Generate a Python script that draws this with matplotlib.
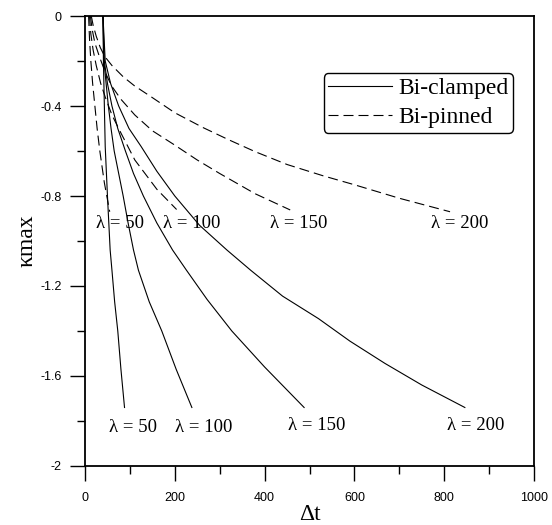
import matplotlib.pyplot as plt
from matplotlib.ticker import MultipleLocator

plt.rcParams['axes.unicode_minus'] = False

# Bi-clamped curves (solid)
clamped_50_t = [40, 41, 45, 50, 56, 60, 66, 73, 80, 88]
clamped_50_k = [0, -0.2, -0.58, -0.8, -1.04, -1.13, -1.27, -1.4, -1.57, -1.74]
clamped_100_t = [40, 42, 47, 52, 58, 65, 75, 85, 96, 108, 119, 143, 171, 203, 238]
clamped_100_k = [0, -0.2, -0.3, -0.4, -0.5, -0.6, -0.7, -0.8, -0.92, -1.04, -1.13, -1.27, -1.4, -1.57, -1.74]
clamped_150_t = [40, 43, 50, 60, 73, 90, 108, 130, 160, 195, 226, 272, 327, 400, 488]
clamped_150_k = [0, -0.2, -0.3, -0.4, -0.5, -0.6, -0.7, -0.8, -0.92, -1.04, -1.13, -1.26, -1.4, -1.56, -1.74]
clamped_200_t = [40, 45, 57, 75, 98, 125, 160, 200, 255, 316, 369, 440, 520, 590, 668, 750, 846]
clamped_200_k = [0, -0.2, -0.3, -0.4, -0.5, -0.58, -0.69, -0.8, -0.93, -1.04, -1.13, -1.245, -1.345, -1.445, -1.544, -1.64, -1.74]

# Bi-pinned curves (dashed)
pinned_50_t = [8, 10, 13, 17, 22, 27, 33, 43, 55]
pinned_50_k = [0, -0.1, -0.2, -0.3, -0.4, -0.5, -0.6, -0.74, -0.87]
pinned_100_t = [10, 13, 18, 25, 35, 45, 60, 80, 111, 160, 204]
pinned_100_k = [0, -0.08, -0.15, -0.22, -0.3, -0.36, -0.44, -0.52, -0.64, -0.77, -0.86]
pinned_150_t = [12, 16, 22, 32, 45, 59, 80, 111, 150, 197, 250, 300, 379, 457]
pinned_150_k = [0, -0.06, -0.12, -0.18, -0.25, -0.31, -0.37, -0.44, -0.51, -0.57, -0.64, -0.7, -0.79, -0.862]
pinned_200_t = [14, 18, 25, 34, 44, 60, 85, 110, 148, 200, 263, 320, 379, 450, 530, 600, 700, 813]
pinned_200_k = [0, -0.04, -0.09, -0.14, -0.18, -0.22, -0.27, -0.31, -0.36, -0.43, -0.496, -0.55, -0.603, -0.66, -0.71, -0.75, -0.81, -0.87]

label_text = ['λ = 50', 'λ = 100', 'λ = 150', 'λ = 200']
upper_label_t = [78, 237, 475, 835]
upper_label_k = [-0.924, -0.924, -0.924, -0.924]
lower_label_t = [107, 265, 516, 870]
lower_label_k = [-1.83, -1.83, -1.82, -1.82]

y_ticks = [0, -0.4, -0.8, -1.2, -1.6, -2]
y_tick_labels = ['0', '-0.4', '-0.8', '-1.2', '-1.6', '-2']
x_ticks = [0, 200, 400, 600, 800, 1000]

serif = 'Liberation Serif'
sans = 'Liberation Sans'

fig = plt.figure(figsize=(5.52, 5.25), dpi=100)
ax = fig.add_axes([0.154, 0.1124, 0.8134, 0.8571])

dash = (0, (9, 4.5))
clamped = [(clamped_50_t, clamped_50_k), (clamped_100_t, clamped_100_k),
           (clamped_150_t, clamped_150_k), (clamped_200_t, clamped_200_k)]
pinned = [(pinned_50_t, pinned_50_k), (pinned_100_t, pinned_100_k),
          (pinned_150_t, pinned_150_k), (pinned_200_t, pinned_200_k)]

for i, (t, k) in enumerate(clamped):
    ax.plot(t, k, color='black', lw=0.8, label='Bi-clamped' if i == 0 else None)
for i, (t, k) in enumerate(pinned):
    ax.plot(t, k, color='black', lw=0.8, linestyle=dash, label='Bi-pinned' if i == 0 else None)

for s, x, y in zip(label_text, upper_label_t, upper_label_k):
    ax.text(x, y, s, ha='center', va='center', fontsize=13.5, family=serif)
for s, x, y in zip(label_text, lower_label_t, lower_label_k):
    ax.text(x, y, s, ha='center', va='center', fontsize=13.5, family=serif)

ax.set_xlim(0, 1000)
ax.set_ylim(-2, 0)
ax.set_xticks(x_ticks)
ax.set_xticklabels([str(v) for v in x_ticks], family=sans, fontsize=9)
ax.set_yticks(y_ticks)
ax.set_yticklabels(y_tick_labels, family=sans, fontsize=9)
ax.xaxis.set_minor_locator(MultipleLocator(100))
ax.yaxis.set_minor_locator(MultipleLocator(0.2))
ax.tick_params(which='major', direction='out', length=11, width=1)
ax.tick_params(axis='x', which='major', pad=8)
ax.tick_params(axis='y', which='major', pad=6)
ax.tick_params(which='minor', direction='out', length=6, width=1)
for sp in ax.spines.values():
    sp.set_linewidth(1.3)

ax.set_xlabel('Δt', family=serif, fontsize=17, labelpad=0)
ax.set_ylabel('κmax', family=serif, fontsize=17, labelpad=2)

leg = ax.legend(loc='upper right', bbox_to_anchor=(0.953, 0.873), borderaxespad=0,
                prop={'family': serif, 'size': 17},
                handlelength=2.7, handletextpad=0.25, borderpad=0.2, labelspacing=0.3,
                fancybox=True, framealpha=1, edgecolor='black')
leg.get_frame().set_linewidth(1.0)

fig.savefig('out.png', dpi=100)
